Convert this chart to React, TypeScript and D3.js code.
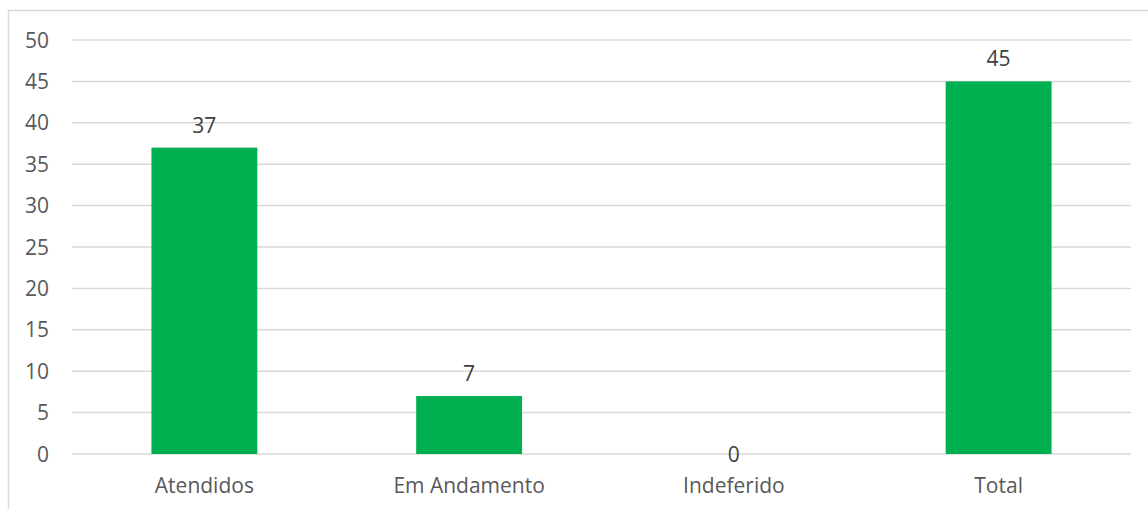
import React from "react";
import * as d3 from "d3";

const categories: string[] = ["Atendidos", "Em Andamento", "Indeferido", "Total"];
const values: number[] = [37, 7, 0, 45];
const yTicks: number[] = [0, 5, 10, 15, 20, 25, 30, 35, 40, 45, 50];

const W = 1148;
const H = 509;
const plotLeft = 72;
const plotRight = 1131;
const plotTop = 40;
const plotBottom = 454;
const textColor = "#595959";
const gridColor = "#D9D9D9";
const barColor = "#00B050";
const font = "'Open Sans', sans-serif";

export default function App() {
  const x = d3
    .scaleBand<string>()
    .domain(categories)
    .range([plotLeft, plotRight])
    .paddingInner(0.6)
    .paddingOuter(0.3);
  const y = d3.scaleLinear().domain([0, 50]).range([plotBottom, plotTop]);

  return (
    <svg
      width={W}
      height={H}
      style={{ position: "absolute", left: 0, top: 0, background: "#fff" }}
      fontFamily={font}
    >
      <rect x={8.5} y={10.5} width={W + 10} height={H + 10} fill="#fff" stroke={gridColor} strokeWidth={1.5} />
      {yTicks.map((t) => (
        <g key={t}>
          <line x1={plotLeft} x2={plotRight} y1={y(t)} y2={y(t)} stroke={gridColor} strokeWidth={1.5} />
          <text x={49} y={y(t)} dy="0.36em" textAnchor="end" fontSize={21} fill={textColor}>
            {t}
          </text>
        </g>
      ))}
      {categories.map((c, i) => {
        const v = values[i];
        const cx = (x(c) as number) + x.bandwidth() / 2;
        return (
          <g key={c}>
            <rect x={x(c)} y={y(v)} width={x.bandwidth()} height={y(0) - y(v)} fill={barColor} />
            <text
              x={cx}
              y={v > 0 ? y(v) - 15 : y(0) + 8}
              textAnchor="middle"
              fontSize={21}
              fill="#404040"
            >
              {v}
            </text>
            <text x={cx} y={493} textAnchor="middle" fontSize={21} fill={textColor}>
              {c}
            </text>
          </g>
        );
      })}
    </svg>
  );
}
